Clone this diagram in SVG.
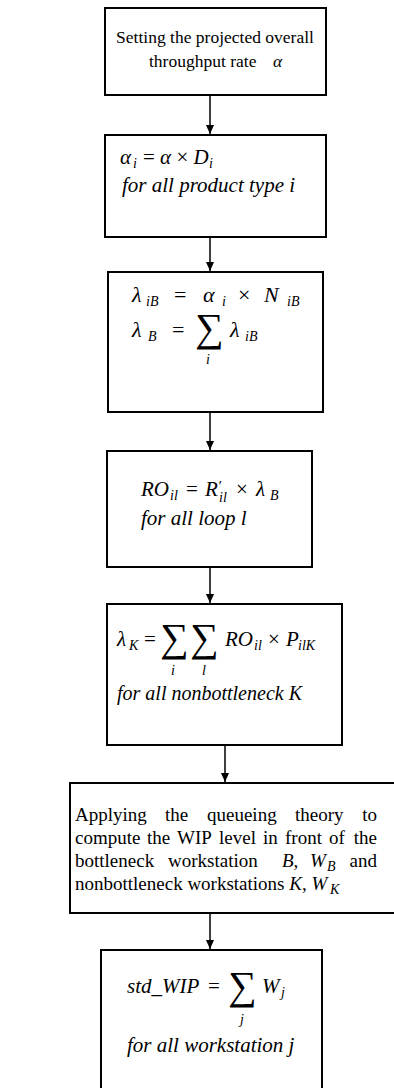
<svg xmlns="http://www.w3.org/2000/svg" width="394" height="1088" viewBox="0 0 394 1088">
<style>
.box{fill:#fff;stroke:#000;stroke-width:2}
.t{font-family:"Liberation Serif",serif;fill:#000}
.u{font-size:17.5px}
.w{font-size:19px}
.e{font-size:21px;font-style:italic}
.g{font-size:22px;font-style:italic}
.n{font-style:normal}
.s{font-size:14px;font-style:italic}
.sig{font-size:40px;font-style:normal}
.c{stroke:#000;stroke-width:1.5;fill:none}
</style>
<defs>
<marker id="ah" markerWidth="10" markerHeight="10" refX="9" refY="5" orient="auto" markerUnits="userSpaceOnUse">
<path d="M0,1 L9,5 L0,9 Z" fill="#000"/>
</marker>
</defs>
<rect width="394" height="1088" fill="#fff"/>
<g id="connectors">
<line class="c" x1="210" y1="95" x2="210" y2="134" marker-end="url(#ah)"/>
<line class="c" x1="210" y1="237" x2="210" y2="271" marker-end="url(#ah)"/>
<line class="c" x1="210" y1="412" x2="210" y2="450" marker-end="url(#ah)"/>
<line class="c" x1="210" y1="567" x2="210" y2="603" marker-end="url(#ah)"/>
<line class="c" x1="225" y1="745" x2="225" y2="782" marker-end="url(#ah)"/>
<line class="c" x1="210" y1="913" x2="210" y2="949" marker-end="url(#ah)"/>
</g>
<g id="n1">
<rect class="box" x="105" y="8" width="221" height="87"/>
<text class="t u" x="215" y="43" text-anchor="middle">Setting the projected overall</text>
<text class="t u" x="149" y="67">throughput rate</text>
<text class="t u" x="273" y="67" font-style="italic">α</text>
</g>
<g id="n2">
<rect class="box" x="105" y="135" width="221" height="102"/>
<text class="t e" x="120" y="164">α</text>
<text class="t s" x="133" y="168">i</text>
<text class="t e" x="143" y="164"><tspan class="n">=</tspan> α <tspan class="n">×</tspan> D</text>
<text class="t s" x="209" y="168">i</text>
<text class="t e" x="122" y="192">for all product type i</text>
</g>
<g id="n3">
<rect class="box" x="108" y="272" width="215" height="140"/>
<text class="t g" x="132" y="302">λ</text>
<text class="t s" x="146" y="306">iB</text>
<text class="t g n" x="174" y="302">=</text>
<text class="t g" x="203" y="302">α</text>
<text class="t s" x="222" y="306">i</text>
<text class="t g n" x="238" y="302">×</text>
<text class="t g" x="264" y="302">N</text>
<text class="t s" x="287" y="306">iB</text>
<text class="t g" x="132" y="337">λ</text>
<text class="t s" x="148" y="341">B</text>
<text class="t g n" x="172" y="337">=</text>
<text class="t sig" x="195" y="341">∑</text>
<text class="t g" x="230" y="337">λ</text>
<text class="t s" x="245" y="341">iB</text>
<text class="t s" x="206" y="364">i</text>
</g>
<g id="n4">
<rect class="box" x="107" y="451" width="205" height="116"/>
<text class="t e" x="141" y="496">RO</text>
<text class="t s" x="170" y="500">il</text>
<text class="t e n" x="186" y="496">=</text>
<text class="t e" x="205" y="496">R<tspan font-size="15" dy="-5">′</tspan></text>
<text class="t s" x="219" y="502">il</text>
<text class="t e n" x="236" y="496">×</text>
<text class="t e" x="256" y="496">λ</text>
<text class="t s" x="270" y="500">B</text>
<text class="t e" x="141" y="525">for all loop l</text>
</g>
<g id="n5">
<rect class="box" x="107" y="604" width="235" height="141"/>
<text class="t e" x="117" y="646">λ</text>
<text class="t s" x="129" y="650">K</text>
<text class="t e n" x="144" y="646">=</text>
<text class="t sig" x="160" y="651">∑</text>
<text class="t sig" x="190" y="651">∑</text>
<text class="t e" x="225" y="646">RO</text>
<text class="t s" x="254" y="650">il</text>
<text class="t e n" x="268" y="646">×</text>
<text class="t e" x="286" y="646">P</text>
<text class="t s" x="298" y="650">ilK</text>
<text class="t s" x="171" y="675">i</text>
<text class="t s" x="202" y="675">l</text>
<text class="t" x="117" y="700" font-size="20" font-style="italic">for all nonbottleneck K</text>
</g>
<g id="n6">
<rect class="box" x="70" y="783" width="330" height="130"/>
<text class="t w" y="821"><tspan x="75">Applying</tspan><tspan x="165">the</tspan><tspan x="207">queueing</tspan><tspan x="295">theory</tspan></text>
<text class="t w" x="377" y="821" text-anchor="end">to</text>
<text class="t w" y="844"><tspan x="75">compute</tspan><tspan x="147">the</tspan><tspan x="177">WIP</tspan><tspan x="219">level</tspan><tspan x="263">in</tspan><tspan x="285">front</tspan><tspan x="329">of</tspan></text>
<text class="t w" x="377" y="844" text-anchor="end">the</text>
<text class="t w" y="867"><tspan x="75">bottleneck</tspan><tspan x="168">workstation</tspan><tspan x="282" font-style="italic">B</tspan>,<tspan x="310" font-style="italic">W</tspan></text>
<text class="t s" x="327" y="871">B</text>
<text class="t w" x="377" y="867" text-anchor="end">and</text>
<text class="t w" x="75" y="890">nonbottleneck workstations <tspan font-style="italic">K</tspan>, <tspan font-style="italic">W</tspan></text>
<text class="t s" x="330" y="894">K</text>
</g>
<g id="n7">
<rect class="box" x="101" y="950" width="221" height="140"/>
<text class="t e" x="127" y="993">std_WIP</text>
<text class="t e n" x="208" y="993">=</text>
<text class="t sig" x="228" y="999">∑</text>
<text class="t e" x="262" y="993">W</text>
<text class="t s" x="281" y="997">j</text>
<text class="t s" x="240" y="1024">j</text>
<text class="t e" x="127" y="1052">for all workstation j</text>
</g>
</svg>
